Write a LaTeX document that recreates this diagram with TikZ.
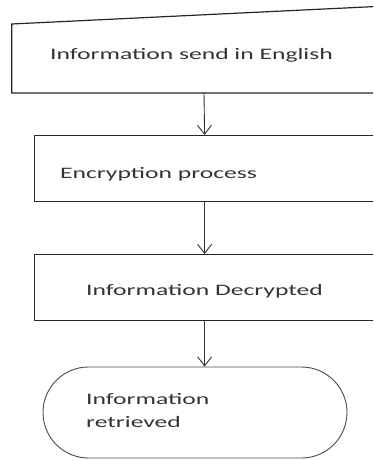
\documentclass[tikz,border=0pt]{standalone}
\usepackage{fontspec}
\setmainfont{Carlito}[FakeStretch=1.6]
\usetikzlibrary{arrows.meta,shapes.misc}
\definecolor{boxline}{HTML}{262626}
\definecolor{termline}{HTML}{4A4A4A}
\definecolor{arrline}{HTML}{333333}
\definecolor{txt}{HTML}{333333}
\begin{document}
\begin{tikzpicture}[x=1pt,y=-1pt,
  boxstyle/.style={draw=boxline,line width=1.2pt,rectangle,inner sep=0pt,
    minimum width=341pt,minimum height=66pt,anchor=north west},
  termstyle/.style={draw=termline,line width=0.9pt,rounded rectangle,inner sep=0pt,
    minimum width=304pt,minimum height=91pt},
  lbl/.style={anchor=base west,inner sep=0pt,text=txt,font=\fontsize{16}{23}\selectfont},
  flow/.style={draw=arrline,line width=0.9pt,-{Straight Barb[length=9pt,width=14pt]}}]
\useasboundingbox (0,0) rectangle (373,461);
\clip (0,0) rectangle (373,461);
% manual input box
\draw[boxline,line width=1.2pt] (11.7,93) -- (11.7,24) -- (397,5.5) -- (397,93) -- cycle;
\coordinate (b1s) at (204,93);
\node[boxstyle] (b2) at (33.5,135) {};
\node[boxstyle] (b3) at (33.5,254) {};
\node[termstyle] (term) at (195,412.5) {};
% texts
\node[lbl] (t1) at (50,59) {Information send in English};
\node[lbl] (t2) at (60,178) {Encryption process};
\node[lbl] (t3) at (86,295) {Information Decrypted};
\node[lbl] (t4a) at (86,404) {Information};
\node[lbl] (t4b) at (86,427) {retrieved};
% connectors
\draw[flow] (b1s) -- (b2.north);
\draw[flow] (b2.south) -- (b3.north);
\draw[flow] (b3.south) -- (b3.south |- term.north);
\end{tikzpicture}
\end{document}
